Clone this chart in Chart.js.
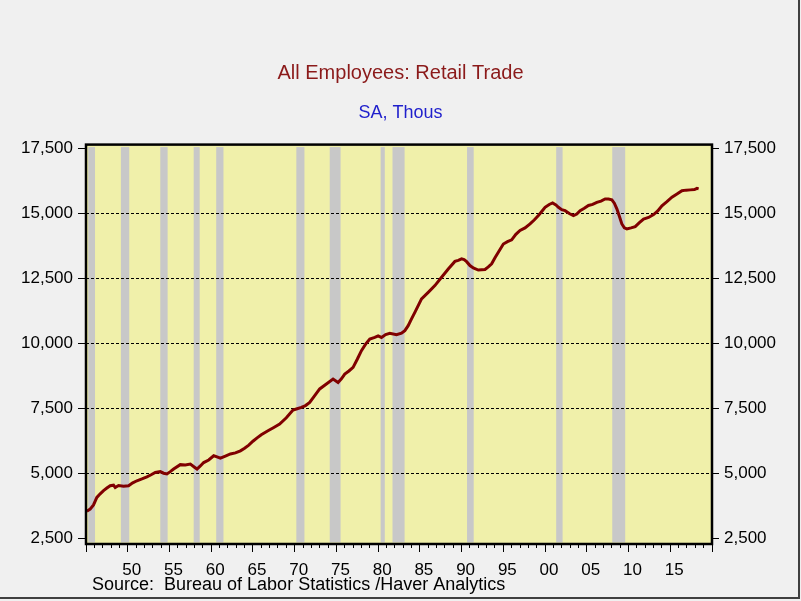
<!DOCTYPE html>
<html>
<head>
<meta charset="utf-8">
<title>All Employees: Retail Trade</title>
<script src="https://cdn.jsdelivr.net/npm/chart.js@4.4.1/dist/chart.umd.min.js"></script>
<style>
  html, body { margin: 0; padding: 0; background: #f0f0f0; }
  #wrap { position: relative; width: 801px; height: 601px; background: #f0f0f0; }
</style>
</head>
<body>
<div id="wrap"><canvas id="retail"></canvas></div>
<script>
// decimal year -> thousands of employees
const years = [
  1945.1, 1945.5, 1945.9, 1946.3, 1946.7, 1947.1, 1947.5, 1947.9, 1948.3, 1948.5,
  1948.9, 1949.5, 1950.1, 1950.6, 1951.1, 1951.7, 1952.3, 1952.8, 1953.3, 1953.9,
  1954.3, 1954.7, 1955.1, 1955.5, 1956.3, 1956.9, 1957.5, 1958.0, 1958.3, 1958.7,
  1959.1, 1959.7, 1960.3, 1960.7, 1961.1, 1961.7, 1962.3, 1962.9, 1963.5, 1964.0,
  1964.5, 1965.0, 1965.5, 1966.0, 1966.8, 1967.5, 1968.2, 1969.0, 1969.8, 1970.3,
  1970.8, 1971.3, 1971.8, 1972.4, 1973.0, 1973.8, 1974.6, 1975.2, 1975.6, 1976.0,
  1976.5, 1977.0, 1977.5, 1978.0, 1978.5, 1979.0, 1979.6, 1980.0, 1980.4, 1980.9,
  1981.4, 1982.2, 1982.8, 1983.2, 1983.6, 1984.0, 1984.4, 1985.2, 1986.0, 1986.8,
  1987.6, 1988.4, 1989.2, 1989.6, 1990.0, 1990.3, 1990.6, 1991.0, 1991.4, 1992.0,
  1992.8, 1993.2, 1993.6, 1994.0, 1994.4, 1995.0, 1995.5, 1996.0, 1996.5, 1997.0,
  1997.6, 1998.2, 1998.7, 1999.2, 1999.6, 2000.0, 2000.5, 2000.9, 2001.3, 2001.6,
  2002.0, 2002.4, 2002.9, 2003.4, 2003.8, 2004.2, 2004.7, 2005.2, 2005.7, 2006.2,
  2006.7, 2007.2, 2007.6, 2008.0, 2008.3, 2008.6, 2008.9, 2009.2, 2009.5, 2009.8,
  2010.3, 2010.8, 2011.3, 2011.8, 2012.4, 2013.0, 2013.5, 2014.0, 2014.6, 2015.2,
  2015.8, 2016.4, 2016.9, 2017.4, 2017.9, 2018.2, 2018.4
];
const employees = [
  3560, 3640, 3800, 4090, 4230, 4350, 4450, 4540, 4560, 4470,
  4550, 4520, 4540, 4650, 4730, 4800, 4880, 4960, 5050, 5080,
  5020, 4990, 5080, 5180, 5350, 5340, 5370, 5250, 5180, 5300,
  5430, 5530, 5690, 5650, 5600, 5680, 5760, 5800, 5880, 5980,
  6100, 6250, 6380, 6500, 6650, 6780, 6910, 7150, 7450, 7500,
  7550, 7620, 7740, 8000, 8260, 8450, 8640, 8510, 8650, 8830,
  8950, 9090, 9400, 9730, 9980, 10180, 10240, 10300, 10240, 10350,
  10400, 10340, 10400, 10500, 10690, 10950, 11200, 11720, 11970, 12230,
  12550, 12870, 13160, 13200, 13260, 13230, 13150, 13000, 12910, 12830,
  12850, 12950, 13070, 13300, 13510, 13830, 13920, 13990, 14200, 14350,
  14450, 14600, 14750, 14920, 15080, 15240, 15350, 15410, 15330, 15240,
  15150, 15110, 15000, 14920, 14980, 15110, 15200, 15310, 15350, 15430,
  15480, 15560, 15560, 15530, 15400, 15180, 14900, 14600, 14450, 14410,
  14450, 14500, 14650, 14790, 14850, 14960, 15100, 15300, 15460, 15630,
  15750, 15880, 15900, 15910, 15920, 15970, 15950
];

// shaded recessions (start / end, decimal years)
const recStart = [1945.27, 1949.18, 1953.90, 1957.90, 1960.60, 1970.20, 1974.20, 1980.30, 1981.72, 1990.65, 2001.33, 2008.05];
const recEnd   = [1946.08, 1950.18, 1954.78, 1958.62, 1961.47, 1971.17, 1975.50, 1980.80, 1983.17, 1991.45, 2002.10, 2009.60];

const yTicks = [2500, 5000, 7500, 10000, 12500, 15000, 17500];
const xMajorTicks = [1945, 1950, 1955, 1960, 1965, 1970, 1975, 1980, 1985, 1990, 1995, 2000, 2005, 2010, 2015, 2020];
const xMinorTicks = [];
for (let yr = 1945; yr <= 2020; yr++) xMinorTicks.push(yr);

const sourceText = 'Source:  Bureau of Labor Statistics /Haver Analytics';

Chart.defaults.font.family = '"Liberation Sans", Arial, sans-serif';
Chart.defaults.color = '#000';

const plotDecor = {
  id: 'plotDecor',
  beforeDraw(chart) {
    const { ctx, chartArea: a, scales } = chart;
    ctx.save();
    ctx.fillStyle = '#f0f0aa';
    ctx.fillRect(a.left, a.top, a.right - a.left, a.bottom - a.top);
    ctx.fillStyle = '#c8c8c8';
    for (let i = 0; i < recStart.length; i++) {
      const x1 = scales.x.getPixelForValue(recStart[i]);
      const x2 = scales.x.getPixelForValue(recEnd[i]);
      ctx.fillRect(x1, a.top + 2.5, x2 - x1, a.bottom - a.top - 4);
    }
    ctx.restore();
  },
  afterDraw(chart) {
    const { ctx, chartArea: a } = chart;
    ctx.save();
    ctx.strokeStyle = '#000';
    ctx.lineWidth = 2.5;
    ctx.strokeRect(a.left, a.top, a.right - a.left, a.bottom - a.top);
    // source line
    ctx.fillStyle = '#000';
    ctx.font = '18px "Liberation Sans", Arial, sans-serif';
    ctx.textBaseline = 'middle';
    ctx.textAlign = 'left';
    ctx.fillText(sourceText, 92, 585);
    // outer frame
    ctx.strokeStyle = '#404040';
    ctx.lineWidth = 2;
    ctx.beginPath();
    ctx.moveTo(0, 598);
    ctx.lineTo(799, 598);
    ctx.lineTo(799, 0);
    ctx.stroke();
    ctx.restore();
  }
};

const yFmt = v => v.toLocaleString('en-US');

new Chart(document.getElementById('retail'), {
  type: 'line',
  data: {
    datasets: [{
      data: years.map((x, i) => ({ x: x, y: employees[i] })),
      borderColor: '#800000',
      borderWidth: 3,
      pointRadius: 0,
      tension: 0,
      yAxisID: 'y'
    }]
  },
  options: {
    responsive: true,
    maintainAspectRatio: false,
    animation: false,
    layout: { padding: 0 },
    plugins: {
      legend: { display: false },
      tooltip: { enabled: false },
      title: {
        display: true,
        text: 'All Employees: Retail Trade',
        color: '#8b1a1a',
        font: { size: 20, weight: 'normal' },
        padding: { top: 61, bottom: 17 }
      },
      subtitle: {
        display: true,
        text: 'SA, Thous',
        color: '#1f1fcc',
        font: { size: 18, weight: 'normal' },
        padding: { top: 0, bottom: 21 }
      }
    },
    scales: {
      x: {
        type: 'linear',
        position: 'bottom',
        weight: 1,
        min: 1945,
        max: 2020,
        afterBuildTicks: s => { s.ticks = xMajorTicks.map(v => ({ value: v })); },
        afterFit: s => { s.height = 57; },
        ticks: {
          autoSkip: false,
          maxRotation: 0,
          padding: 8,
          labelOffset: 4,
          font: { size: 17 },
          callback: v => (v === 1945 || v === 2020) ? '' : String(v % 100).padStart(2, '0')
        },
        grid: { drawOnChartArea: false, tickLength: 8, tickColor: '#000' },
        border: { display: false }
      },
      xMinor: {
        type: 'linear',
        position: 'bottom',
        weight: 0,
        min: 1945,
        max: 2020,
        afterBuildTicks: s => { s.ticks = xMinorTicks.map(v => ({ value: v })); },
        afterFit: s => { s.height = 0; },
        ticks: { display: false },
        grid: { drawOnChartArea: false, tickLength: 4, tickColor: '#000' },
        border: { display: false }
      },
      y: {
        position: 'left',
        min: 2300,
        max: 17650,
        afterBuildTicks: s => { s.ticks = yTicks.map(v => ({ value: v })); },
        afterFit: s => { s.width = 86; },
        ticks: { padding: 5, font: { size: 17 }, callback: yFmt },
        grid: {
          color: c => (c.tick && (c.tick.value === 2500 || c.tick.value === 17500)) ? 'rgba(0,0,0,0)' : '#000',
          tickColor: '#000',
          tickLength: 8,
          lineWidth: 1
        },
        border: { display: false, dash: [3, 2] }
      },
      y2: {
        position: 'right',
        min: 2300,
        max: 17650,
        afterBuildTicks: s => { s.ticks = yTicks.map(v => ({ value: v })); },
        afterFit: s => { s.width = 89; },
        ticks: { padding: 5, font: { size: 17 }, callback: yFmt },
        grid: { drawOnChartArea: false, tickColor: '#000', tickLength: 7 },
        border: { display: false }
      }
    }
  },
  plugins: [plotDecor]
});
</script>
</body>
</html>
